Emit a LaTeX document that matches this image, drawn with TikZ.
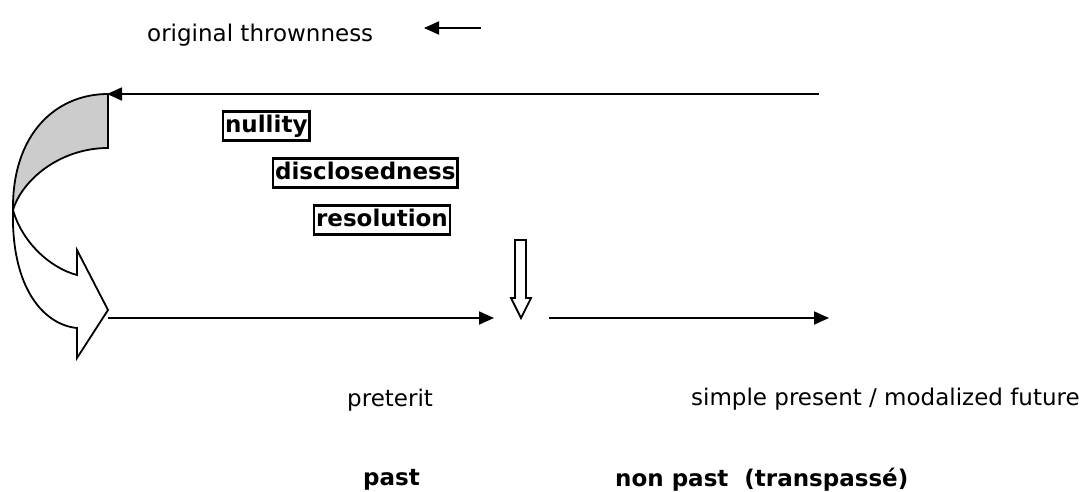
\documentclass[tikz,border=0pt]{standalone}
\usepackage{fontspec}
\setmainfont{DejaVu Sans}
\usetikzlibrary{arrows.meta}
\begin{document}
\begin{tikzpicture}[x=1pt,y=-1pt,
  lbl/.style={anchor=west,inner sep=0pt,font=\fontsize{23}{27}\selectfont},
  blbl/.style={anchor=west,inner sep=0pt,font=\fontsize{23}{27}\selectfont\bfseries},
  boxed/.style={draw,line width=2.2pt,anchor=west,inner xsep=2pt,inner ysep=3pt,
    text height=18pt,text depth=5pt,font=\fontsize{23}{27}\selectfont\bfseries},
  conn/.style={line width=1.8pt,-{Triangle[length=15pt,width=13pt]}},
  outl/.style={line width=1.8pt,line join=miter}]
\useasboundingbox (0,0) rectangle (1089,492);
% labels
\node[lbl] (orig) at (147,35) {original thrownness};
\node[lbl] (pret) at (347,400) {preterit};
\node[lbl] (simp) at (691,399) {simple present / modalized future};
\node[blbl] (past) at (363,480) {past};
\node[blbl] (nonp) at (615,480) {non past\ \ (transpassé)};
\node[boxed] (null) at (222,126) {nullity};
\node[boxed] (disc) at (272,173) {disclosedness};
\node[boxed] (reso) at (313,220) {resolution};
% coordinates
\coordinate (sa1) at (481,28);
\coordinate (sa2) at (424,28);
\coordinate (ta1) at (819,94);
\coordinate (ta2) at (107,94);
\coordinate (ba1) at (108,318);
\coordinate (ba2) at (494,318);
\coordinate (bb1) at (549,318);
\coordinate (bb2) at (829,318);
\draw[conn] (sa1) -- (sa2);
\draw[conn] (ta1) -- (ta2);
\draw[conn] (ba1) -- (ba2);
\draw[conn] (bb1) -- (bb2);
% block arrow down
\draw[outl,fill=white] (515,240) -- (526,240) -- (526,298) -- (531,298) -- (521,318) -- (511,298) -- (515,298) -- cycle;
% curved arrow
\coordinate (C) at (13,210);
\draw[outl,fill=black!20] (108,94) .. controls (55,94) and (12,135) .. (C)
   .. controls (22,180) and (60,148) .. (108,148) -- cycle;
\draw[outl,fill=white] (C) .. controls (11,290) and (45,325) .. (77,328)
   -- (77,358) -- (108,310) -- (77,250) -- (77,275)
   .. controls (50,268) and (22,242) .. (C);
\end{tikzpicture}
\end{document}
